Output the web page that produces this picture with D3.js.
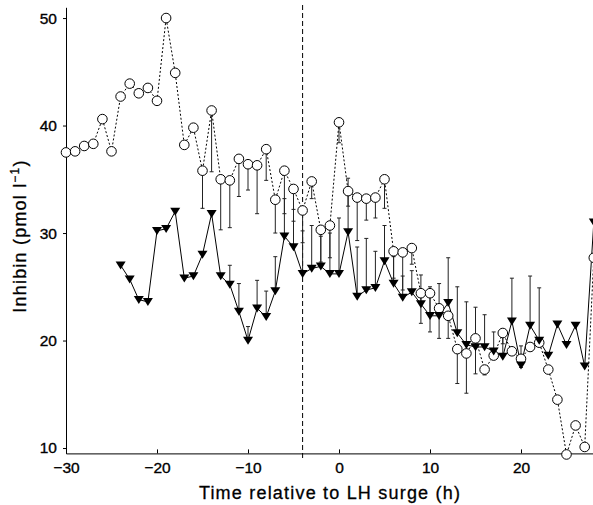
<!DOCTYPE html>
<meta charset="utf-8">
<title>Inhibin</title>
<style>
body { margin: 0; background: #fff; }
.axis text { font: 15.5px "Liberation Sans", Arial, sans-serif; fill: #000; stroke: #000; stroke-width: 0.35; }
.axis path, .axis line { stroke: #000; }
.title { fill: #000; stroke: #000; stroke-width: 0.3; }
</style>
<svg></svg>
<script src="https://cdn.jsdelivr.net/npm/d3@7"></script>
<script>
var width = 593, height = 505;

// hours relative to LH surge
var hoursA = d3.range(-30, 29);
var hoursB = d3.range(-24, 29);

// open circles (dotted line), mean and lower SEM
var circleMean = [37.5, 37.6, 38.1, 38.3, 40.6, 37.6, 42.7, 43.9, 43.0, 43.5,
  42.3, 50.0, 44.9, 38.2, 39.8, 35.8, 41.4, 35.0, 34.9, 36.9,
  36.4, 36.3, 37.8, 33.1, 35.8, 34.1, 32.1, 34.8, 30.3, 30.7,
  40.3, 33.9, 33.3, 33.2, 33.3, 35.0, 28.3, 28.2, 28.6, 24.4,
  24.4, 23.0, 22.3, 19.2, 18.8, 20.2, 17.3, 18.6, 20.7, 19.0,
  18.3, 19.4, 19.8, 17.3, 14.5, 9.4, 12.1, 10.1, 27.7];
var circleErr = [0, 0, 0, 0, 0, 0, 0, 0, 0, 0,
  0, 0, 0, 0, 0, 3.5, 5.7, 4.7, 4.4, 3.5,
  2.4, 4.5, 2.9, 3.1, 4.0, 3.0, 3.0, 1.6, 3.0, 3.0,
  1.9, 1.4, 4.0, 2.0, 1.9, 2.7, 2.5, 3.5, 1.5, 2.8,
  3.6, 2.8, 2.1, 3.2, 3.7, 3.3, 0.5, 0, 1.0, 0,
  0.8, 0, 0, 0, 0, 0, 0, 0, 0];

// filled triangles (solid line), mean and upper SEM
var triMean = [27.0, 25.7, 23.8, 23.6, 30.2, 30.4, 32.0, 25.8, 26.0, 28.0,
  31.8, 26.0, 25.2, 22.7, 20.0, 23.0, 22.2, 24.6, 29.7, 28.7,
  26.2, 26.7, 26.9, 26.2, 26.2, 30.1, 24.1, 24.7, 24.9, 27.4,
  25.3, 24.0, 24.5, 23.4, 22.3, 22.3, 23.5, 20.7, 19.6, 19.4,
  19.4, 19.0, 18.5, 21.8, 17.7, 21.4, 20.0, 18.6, 21.5, 19.6,
  21.4, 17.6, 31.0];
var triErr = [0, 0, 0, 0, 0, 0, 0, 0, 0, 0,
  0, 0, 1.8, 2.6, 1.3, 2.6, 2.4, 3.2, 3.5, 3.5,
  4.0, 4.0, 2.8, 3.8, 5.2, 5.0, 4.6, 4.8, 3.4, 3.3,
  2.5, 2.0, 2.0, 2.7, 2.7, 3.0, 4.2, 4.3, 4.0, 3.7,
  3.0, 1.8, 2.0, 4.0, 1.8, 4.6, 4.9, 0, 0, 0,
  0, 0, 0];

var xTicks = [-30, -20, -10, 0, 10, 20];
var yTicks = [10, 20, 30, 40, 50];
var surgeLine = -4;

var svg = d3.select("svg")
  .attr("width", width)
  .attr("height", height);

var x = d3.scaleLinear()
  .domain([-30, 28])
  .range([66, 593.8]);

var y = d3.scaleLinear()
  .domain([9.5, 51])
  .range([453.4, 7.3]);

var circles = hoursA.map((h, i) => ({ h: h, v: circleMean[i], e: circleErr[i] }));
var tris = hoursB.map((h, i) => ({ h: h, v: triMean[i], e: triErr[i] }));

// axes
svg.append("g")
  .attr("class", "axis")
  .attr("transform", "translate(0," + y(9.5) + ")")
  .call(d3.axisBottom(x)
    .tickValues(xTicks)
    .tickSizeInner(-4)
    .tickSizeOuter(0)
    .tickPadding(9)
    .tickFormat(d => d < 0 ? "\u2212" + Math.abs(d) : d));

svg.append("g")
  .attr("class", "axis")
  .attr("transform", "translate(" + x(-30) + ",0)")
  .call(d3.axisLeft(y)
    .tickValues(yTicks)
    .tickSizeInner(3)
    .tickSizeOuter(0)
    .tickPadding(6));

// LH surge marker
svg.append("line")
  .attr("x1", x(surgeLine))
  .attr("x2", x(surgeLine))
  .attr("y1", 5)
  .attr("y2", y(9.5) + 5)
  .attr("stroke", "#000")
  .attr("stroke-width", 1)
  .attr("stroke-dasharray", "5,3");

var line = d3.line()
  .x(d => x(d.h))
  .y(d => y(d.v));

svg.append("path")
  .datum(circles)
  .attr("d", line)
  .attr("fill", "none")
  .attr("stroke", "#000")
  .attr("stroke-width", 1)
  .attr("stroke-dasharray", "2,2");

svg.append("path")
  .datum(tris)
  .attr("d", line)
  .attr("fill", "none")
  .attr("stroke", "#000")
  .attr("stroke-width", 1);

// error bars: circles go down, triangles go up
function errBars(data, sign) {
  var g = svg.append("g")
    .attr("stroke", "#222")
    .attr("stroke-width", 1)
    .selectAll("g")
    .data(data.filter(d => d.e > 0))
    .enter()
    .append("g");
  g.append("line")
    .attr("x1", d => x(d.h))
    .attr("x2", d => x(d.h))
    .attr("y1", d => y(d.v))
    .attr("y2", d => y(d.v + sign * d.e));
  g.append("line")
    .attr("x1", d => x(d.h) - 2)
    .attr("x2", d => x(d.h) + 2)
    .attr("y1", d => y(d.v + sign * d.e))
    .attr("y2", d => y(d.v + sign * d.e));
}
errBars(circles, -1);
errBars(tris, 1);

svg.append("g")
  .selectAll("circle")
  .data(circles)
  .enter()
  .append("circle")
  .attr("cx", d => x(d.h))
  .attr("cy", d => y(d.v))
  .attr("r", 4.8)
  .attr("fill", "#fff")
  .attr("stroke", "#000")
  .attr("stroke-width", 1);

svg.append("g")
  .selectAll("path")
  .data(tris)
  .enter()
  .append("path")
  .attr("d", "M-5,-3.8L5,-3.8L0,4.2Z")
  .attr("transform", d => "translate(" + x(d.h) + "," + y(d.v) + ")")
  .attr("fill", "#000");

// titles
svg.append("text")
  .attr("class", "title")
  .attr("x", 330)
  .attr("y", 499)
  .attr("text-anchor", "middle")
  .attr("font-family", "Liberation Sans, Arial, sans-serif")
  .attr("font-size", 18)
  .attr("letter-spacing", 1.2)
  .text("Time relative to LH surge (h)");

var yt = svg.append("text")
  .attr("class", "title")
  .attr("transform", "translate(26,236) rotate(-90)")
  .attr("text-anchor", "middle")
  .attr("font-family", "Liberation Sans, Arial, sans-serif")
  .attr("font-size", 18)
  .attr("letter-spacing", 1.2);
yt.append("tspan").text("Inhibin (pmol l");
yt.append("tspan")
  .attr("font-size", 12)
  .attr("dy", -7)
  .text("\u22121");
yt.append("tspan")
  .attr("dy", 7)
  .text(")");
</script>
